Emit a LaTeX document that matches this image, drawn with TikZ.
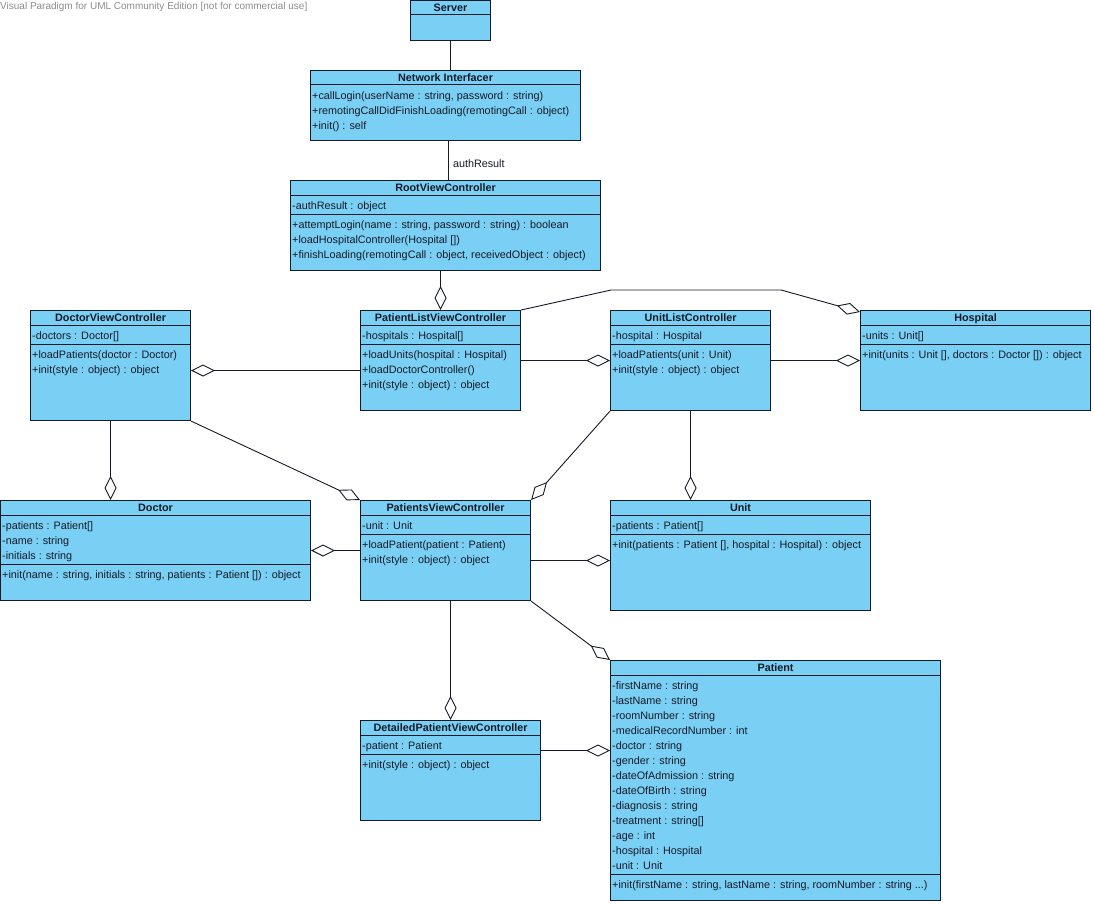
\documentclass[tikz,border=0pt]{standalone}
\usepackage{fontspec}
\setmainfont{Liberation Sans}
\usetikzlibrary{arrows.meta}

\definecolor{umlfill}{RGB}{122,207,245}
\definecolor{umlline}{RGB}{22,26,38}
\definecolor{umlmark}{RGB}{140,140,140}

\begin{document}
\begin{tikzpicture}[x=1pt,y=-1pt,
  cls/.style={draw=umlline, fill=umlfill, anchor=north west, inner sep=0pt, line width=1.1pt},
  ctitle/.style={font=\fontsize{10.8}{15}\selectfont\bfseries, anchor=base, inner sep=0pt, text=umlline},
  member/.style={font=\fontsize{10.8}{15}\selectfont, anchor=base west, inner sep=0pt, text=umlline},
  sep/.style={draw=umlline, line width=1pt},
  assoc/.style={draw=umlline, line width=0.9pt},
  aggr/.style={assoc, -{Diamond[length=24pt, width=12pt, fill=white]}}]
\useasboundingbox (0,0) rectangle (1094,904);

\node[anchor=north west, inner sep=0pt, text=umlmark, font=\fontsize{10}{10}\selectfont] (wm) at (0,2) {Visual Paradigm for UML Community Edition [not for commercial use]};

% Server
\node[cls, minimum width=80, minimum height=40] (srv) at (410,0) {};
\node[ctitle] (srv-t) at ([yshift=-11.5pt]srv.north) {Server};
\draw[sep] ([yshift=-15pt]srv.north west) -- ([yshift=-15pt]srv.north east);

% Network Interfacer
\node[cls, minimum width=270, minimum height=70] (ni) at (310,70) {};
\node[ctitle] (ni-t) at ([yshift=-11.5pt]ni.north) {Network Interfacer};
\draw[sep] ([yshift=-15pt]ni.north west) -- ([yshift=-15pt]ni.north east);
\foreach \m [count=\i] in {{+callLogin(userName : string, password : string)},{+remotingCallDidFinishLoading(remotingCall : object)},{+init() : self}}
  \node[member] (ni-m\i) at ([shift={(2,14.5+15*\i)}]ni.north west) {\m};

% RootViewController
\node[cls, minimum width=310, minimum height=90] (rvc) at (290,180) {};
\node[ctitle] (rvc-t) at ([yshift=-11.5pt]rvc.north) {RootViewController};
\draw[sep] ([yshift=-15pt]rvc.north west) -- ([yshift=-15pt]rvc.north east);
\draw[sep] ([yshift=-34pt]rvc.north west) -- ([yshift=-34pt]rvc.north east);
\foreach \m [count=\i] in {{-authResult : object}}
  \node[member] (rvc-a\i) at ([shift={(2,14+15*\i)}]rvc.north west) {\m};
\foreach \m [count=\i] in {{+attemptLogin(name : string, password : string) : boolean},{+loadHospitalController(Hospital [])},{+finishLoading(remotingCall : object, receivedObject : object)}}
  \node[member] (rvc-m\i) at ([shift={(2,33+15*\i)}]rvc.north west) {\m};

% DoctorViewController
\node[cls, minimum width=160, minimum height=110] (dvc) at (30,310) {};
\node[ctitle] (dvc-t) at ([yshift=-11.5pt]dvc.north) {DoctorViewController};
\draw[sep] ([yshift=-15pt]dvc.north west) -- ([yshift=-15pt]dvc.north east);
\draw[sep] ([yshift=-34pt]dvc.north west) -- ([yshift=-34pt]dvc.north east);
\foreach \m [count=\i] in {{-doctors : Doctor[]}}
  \node[member] (dvc-a\i) at ([shift={(2,14+15*\i)}]dvc.north west) {\m};
\foreach \m [count=\i] in {{+loadPatients(doctor : Doctor)},{+init(style : object) : object}}
  \node[member] (dvc-m\i) at ([shift={(2,33+15*\i)}]dvc.north west) {\m};

% PatientListViewController
\node[cls, minimum width=160, minimum height=100] (plvc) at (360,310) {};
\node[ctitle] (plvc-t) at ([yshift=-11.5pt]plvc.north) {PatientListViewController};
\draw[sep] ([yshift=-15pt]plvc.north west) -- ([yshift=-15pt]plvc.north east);
\draw[sep] ([yshift=-34pt]plvc.north west) -- ([yshift=-34pt]plvc.north east);
\foreach \m [count=\i] in {{-hospitals : Hospital[]}}
  \node[member] (plvc-a\i) at ([shift={(2,14+15*\i)}]plvc.north west) {\m};
\foreach \m [count=\i] in {{+loadUnits(hospital : Hospital)},{+loadDoctorController()},{+init(style : object) : object}}
  \node[member] (plvc-m\i) at ([shift={(2,33+15*\i)}]plvc.north west) {\m};

% UnitListController
\node[cls, minimum width=160, minimum height=100] (ulc) at (610,310) {};
\node[ctitle] (ulc-t) at ([yshift=-11.5pt]ulc.north) {UnitListController};
\draw[sep] ([yshift=-15pt]ulc.north west) -- ([yshift=-15pt]ulc.north east);
\draw[sep] ([yshift=-34pt]ulc.north west) -- ([yshift=-34pt]ulc.north east);
\foreach \m [count=\i] in {{-hospital : Hospital}}
  \node[member] (ulc-a\i) at ([shift={(2,14+15*\i)}]ulc.north west) {\m};
\foreach \m [count=\i] in {{+loadPatients(unit : Unit)},{+init(style : object) : object}}
  \node[member] (ulc-m\i) at ([shift={(2,33+15*\i)}]ulc.north west) {\m};

% Hospital
\node[cls, minimum width=230, minimum height=100] (hosp) at (860,310) {};
\node[ctitle] (hosp-t) at ([yshift=-11.5pt]hosp.north) {Hospital};
\draw[sep] ([yshift=-15pt]hosp.north west) -- ([yshift=-15pt]hosp.north east);
\draw[sep] ([yshift=-34pt]hosp.north west) -- ([yshift=-34pt]hosp.north east);
\foreach \m [count=\i] in {{-units : Unit[]}}
  \node[member] (hosp-a\i) at ([shift={(2,14+15*\i)}]hosp.north west) {\m};
\foreach \m [count=\i] in {{+init(units : Unit [], doctors : Doctor []) : object}}
  \node[member] (hosp-m\i) at ([shift={(2,33+15*\i)}]hosp.north west) {\m};

% Doctor
\node[cls, minimum width=310, minimum height=100] (doc) at (0,500) {};
\node[ctitle] (doc-t) at ([yshift=-11.5pt]doc.north) {Doctor};
\draw[sep] ([yshift=-15pt]doc.north west) -- ([yshift=-15pt]doc.north east);
\draw[sep] ([yshift=-64pt]doc.north west) -- ([yshift=-64pt]doc.north east);
\foreach \m [count=\i] in {{-patients : Patient[]},{-name : string},{-initials : string}}
  \node[member] (doc-a\i) at ([shift={(2,14+15*\i)}]doc.north west) {\m};
\foreach \m [count=\i] in {{+init(name : string, initials : string, patients : Patient []) : object}}
  \node[member] (doc-m\i) at ([shift={(2,63+15*\i)}]doc.north west) {\m};

% PatientsViewController
\node[cls, minimum width=170, minimum height=100] (pvc) at (360,500) {};
\node[ctitle] (pvc-t) at ([yshift=-11.5pt]pvc.north) {PatientsViewController};
\draw[sep] ([yshift=-15pt]pvc.north west) -- ([yshift=-15pt]pvc.north east);
\draw[sep] ([yshift=-34pt]pvc.north west) -- ([yshift=-34pt]pvc.north east);
\foreach \m [count=\i] in {{-unit : Unit}}
  \node[member] (pvc-a\i) at ([shift={(2,14+15*\i)}]pvc.north west) {\m};
\foreach \m [count=\i] in {{+loadPatient(patient : Patient)},{+init(style : object) : object}}
  \node[member] (pvc-m\i) at ([shift={(2,33+15*\i)}]pvc.north west) {\m};

% Unit
\node[cls, minimum width=260, minimum height=110] (unit) at (610,500) {};
\node[ctitle] (unit-t) at ([yshift=-11.5pt]unit.north) {Unit};
\draw[sep] ([yshift=-15pt]unit.north west) -- ([yshift=-15pt]unit.north east);
\draw[sep] ([yshift=-34pt]unit.north west) -- ([yshift=-34pt]unit.north east);
\foreach \m [count=\i] in {{-patients : Patient[]}}
  \node[member] (unit-a\i) at ([shift={(2,14+15*\i)}]unit.north west) {\m};
\foreach \m [count=\i] in {{+init(patients : Patient [], hospital : Hospital) : object}}
  \node[member] (unit-m\i) at ([shift={(2,33+15*\i)}]unit.north west) {\m};

% DetailedPatientViewController
\node[cls, minimum width=180, minimum height=100] (dpvc) at (360,720) {};
\node[ctitle] (dpvc-t) at ([yshift=-11.5pt]dpvc.north) {DetailedPatientViewController};
\draw[sep] ([yshift=-15pt]dpvc.north west) -- ([yshift=-15pt]dpvc.north east);
\draw[sep] ([yshift=-34pt]dpvc.north west) -- ([yshift=-34pt]dpvc.north east);
\foreach \m [count=\i] in {{-patient : Patient}}
  \node[member] (dpvc-a\i) at ([shift={(2,14+15*\i)}]dpvc.north west) {\m};
\foreach \m [count=\i] in {{+init(style : object) : object}}
  \node[member] (dpvc-m\i) at ([shift={(2,33+15*\i)}]dpvc.north west) {\m};

% Patient
\node[cls, minimum width=330, minimum height=240] (pat) at (610,660) {};
\node[ctitle] (pat-t) at ([yshift=-11.5pt]pat.north) {Patient};
\draw[sep] ([yshift=-15pt]pat.north west) -- ([yshift=-15pt]pat.north east);
\draw[sep] ([yshift=-214pt]pat.north west) -- ([yshift=-214pt]pat.north east);
\foreach \m [count=\i] in {{-firstName : string},{-lastName : string},{-roomNumber : string},{-medicalRecordNumber : int},{-doctor : string},{-gender : string},{-dateOfAdmission : string},{-dateOfBirth : string},{-diagnosis : string},{-treatment : string[]},{-age : int},{-hospital : Hospital},{-unit : Unit}}
  \node[member] (pat-a\i) at ([shift={(2,14+15*\i)}]pat.north west) {\m};
\node[member] (pat-m1) at ([shift={(2,228)}]pat.north west) {+init(firstName : string, lastName : string, roomNumber : string ...)};

% connectors
\draw[assoc] (srv.south) -- (srv.south |- ni.north);
\coordinate (nidown) at ([xshift=3pt]ni.south);
\draw[assoc] (nidown) -- (nidown |- rvc.north) node[midway, right, inner sep=4pt, yshift=-3pt, font=\fontsize{10.8}{15}\selectfont, text=umlline] (auth) {authResult};
\draw[aggr] (rvc.south -| plvc.north) -- (plvc.north);
\coordinate (dvcout) at ([yshift=-10pt]plvc.west);
\draw[aggr] (dvcout) -- (dvcout -| dvc.east);
\draw[aggr] (plvc.east) -- (plvc.east -| ulc.west);
\draw[aggr] (ulc.east) -- (hosp.west);
\coordinate (bendA) at ([shift={(90,-20)}]plvc.north east);
\coordinate (bendB) at ([shift={(260,-20)}]plvc.north east);
\draw[aggr] (plvc.north east) -- (bendA) -- (bendB) -- ([yshift=-2pt]hosp.north west);
\draw[aggr] (dvc.south) -- (dvc.south |- doc.north);
\draw[aggr] (dvc.south east) -- (pvc.north west);
\draw[aggr] (ulc.south west) -- (pvc.north east);
\draw[aggr] (ulc.south) -- (ulc.south |- unit.north);
\draw[aggr] (pvc.west) -- (pvc.west -| doc.east);
\coordinate (unitin) at ([yshift=-10pt]pvc.east);
\draw[aggr] (unitin) -- (unitin -| unit.west);
\draw[aggr] (dpvc.north |- pvc.south) -- (dpvc.north);
\draw[aggr] (pvc.south east) -- (pat.north west);
\coordinate (patin) at ([yshift=20pt]dpvc.east);
\draw[aggr] (patin) -- (patin -| pat.west);
\end{tikzpicture}
\end{document}
